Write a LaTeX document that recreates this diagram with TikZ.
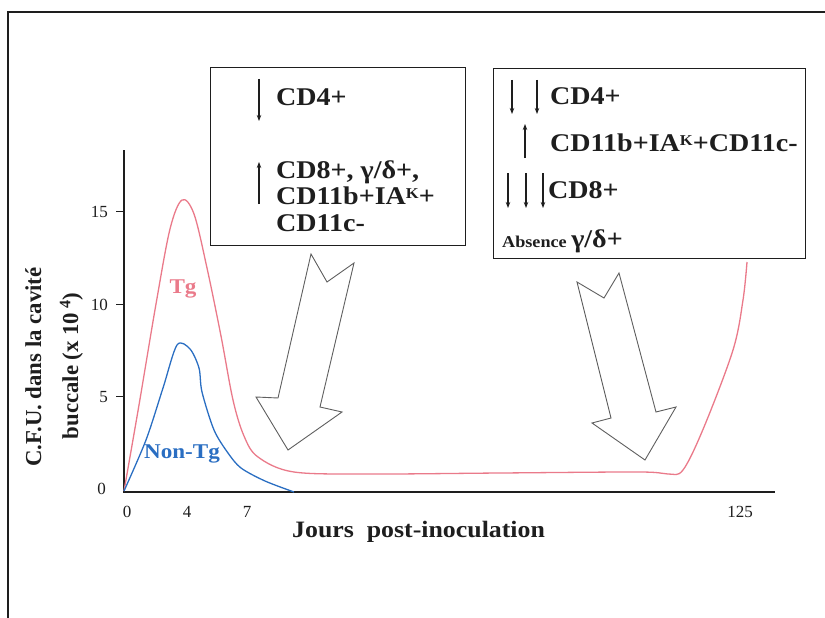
\documentclass[tikz,border=0pt]{standalone}
\usepackage{fontspec}
\setmainfont{Liberation Serif}
\newfontfamily\wideserif{Liberation Serif}[FakeStretch=1.1]
\usetikzlibrary{arrows.meta}
\definecolor{tgpink}{RGB}{234,122,138}
\definecolor{ntblue}{RGB}{42,110,194}
\definecolor{inkc}{RGB}{30,30,30}
\definecolor{arrowgray}{RGB}{95,95,95}
\newcommand{\supK}{\raisebox{5.5pt}{\fontsize{15}{15}\selectfont K}}
\begin{document}
\begin{tikzpicture}[x=1pt,y=-1pt,
  frameline/.style={draw=inkc, line width=1.2pt},
  boxframe/.style={draw=inkc, line width=1.4pt, inner sep=0pt, anchor=north west},
  boxtxt/.style={anchor=base west, inner sep=0pt, text=inkc,
    font=\wideserif\bfseries\fontsize{25.5}{28}\selectfont},
  smalltxt/.style={anchor=base west, inner sep=0pt, text=inkc,
    font=\wideserif\bfseries\fontsize{16.5}{18}\selectfont},
  thinarrow/.style={draw=inkc, line width=1.1pt, -{Stealth[length=6pt,width=4.5pt]}},
  blockarrow/.style={draw=arrowgray, line width=0.9pt, fill=white, line join=miter},
  axisline/.style={draw=inkc, line width=1.2pt},
  ticklbl/.style={inner sep=0pt, text=inkc, font=\fontsize{17}{19}\selectfont},
  curvelbl/.style={anchor=base, inner sep=0pt, font=\wideserif\bfseries\fontsize{21}{23}\selectfont},
  ylbl/.style={anchor=base, rotate=90, inner sep=0pt, text=inkc,
    font=\bfseries\fontsize{22.8}{25}\selectfont},
  xlbl/.style={anchor=base west, inner sep=0pt, text=inkc,
    font=\wideserif\bfseries\fontsize{23.5}{26}\selectfont}
]
\useasboundingbox (0,0) rectangle (825,618);

% outer frame (top and left sides visible)
\coordinate (fTR) at (825,12);
\coordinate (fTL) at (8,12);
\coordinate (fBL) at (8,618);
\draw[frameline] (fTR) -- (fTL) -- (fBL);

% axes
\coordinate (O) at (124,492);
\coordinate (Ytop) at (124,150);
\coordinate (Xend) at (775,492);
\draw[axisline] (Ytop) -- (O) -- (Xend);

% y ticks and labels
\foreach \v/\yy in {15/211,10/304,5/396}{
  \draw[inkc, line width=0.9pt] (116,\yy) -- (124,\yy);
  \node[ticklbl, anchor=east] (ylab\v) at (108,\yy+1) {\v};
}
\node[ticklbl, anchor=east] (ylab0) at (106,489) {0};

% x tick labels
\node[ticklbl, anchor=base] (xlab0) at (127,517) {0};
\node[ticklbl, anchor=base] (xlab4) at (187,517) {4};
\node[ticklbl, anchor=base] (xlab7) at (247,517) {7};
\node[ticklbl, anchor=base] (xlab125) at (740,517) {125};

% axis titles
\node[xlbl] (xtitle) at (292,537) {Jours\ \ post-inoculation};
\node[ylbl] (ytitle1) at (41,367) {C.F.U. dans la cavité};
\node[ylbl] (ytitle2) at (78,366) {buccale (x 10\,\textsuperscript{4})};

% Tg curve
\draw[tgpink, line width=1.3pt, line join=round] plot[smooth, tension=0.55] coordinates {
  (124,491) (139,405) (156,304) (170,229) (182,200) (194,214) (207,268)
  (221,336) (233,400) (244,436) (258,457) (294,472) (373,474) (500,473)
  (640,472) (668,474) (683,470) (704,427) (733,350) (743,300) (747,262)};

% Non-Tg curve
\draw[ntblue, line width=1.3pt, line join=round] plot[smooth, tension=0.5] coordinates {
  (124,491) (146,440) (163,388) (177,345) (190,349) (199,368) (202,392)
  (214,430) (228,453) (241,468) (265,481) (294,492)};

\node[curvelbl, text=tgpink] (tglbl) at (183,293) {Tg};
\node[curvelbl, text=ntblue] (ntlbl) at (182,458) {Non-Tg};

% block arrows
\draw[blockarrow] (311,254) -- (327,282) -- (354,263) -- (320,407) -- (342,412)
  -- (288,450) -- (256,397) -- (278,398) -- cycle;
\draw[blockarrow] (577,282) -- (604,298) -- (619,273) -- (656,412) -- (676,407)
  -- (645,460) -- (592,423) -- (611,418) -- cycle;

% box 1
\node[boxframe, fill=white, minimum width=255pt, minimum height=178pt] (box1) at (210,67) {};
\draw[thinarrow] (259,79) -- (259,121);
\node[boxtxt] (b1l1) at (276,106) {CD4+};
\draw[thinarrow] (259,204) -- (259,162);
\node[boxtxt] (b1l2) at (276,178) {CD8+, γ/δ+,};
\node[boxtxt] (b1l3) at (276,204) {CD11b+IA\supK+};
\node[boxtxt] (b1l4) at (276,231) {CD11c-};

% box 2
\node[boxframe, fill=white, minimum width=312pt, minimum height=190pt] (box2) at (493,68) {};
\draw[thinarrow] (512,80) -- (512,114);
\draw[thinarrow] (537,80) -- (537,114);
\node[boxtxt] (b2l1) at (550,104) {CD4+};
\draw[thinarrow] (525,158) -- (525,124);
\node[boxtxt] (b2l2) at (550,151) {CD11b+IA\supK+CD11c-};
\draw[thinarrow] (508,173) -- (508,208);
\draw[thinarrow] (526,173) -- (526,208);
\draw[thinarrow] (543,173) -- (543,208);
\node[boxtxt] (b2l3) at (548,198) {CD8+};
\node[smalltxt] (b2l4) at (502,247) {Absence \fontsize{25.5}{28}\selectfont γ/δ+};

\end{tikzpicture}
\end{document}
